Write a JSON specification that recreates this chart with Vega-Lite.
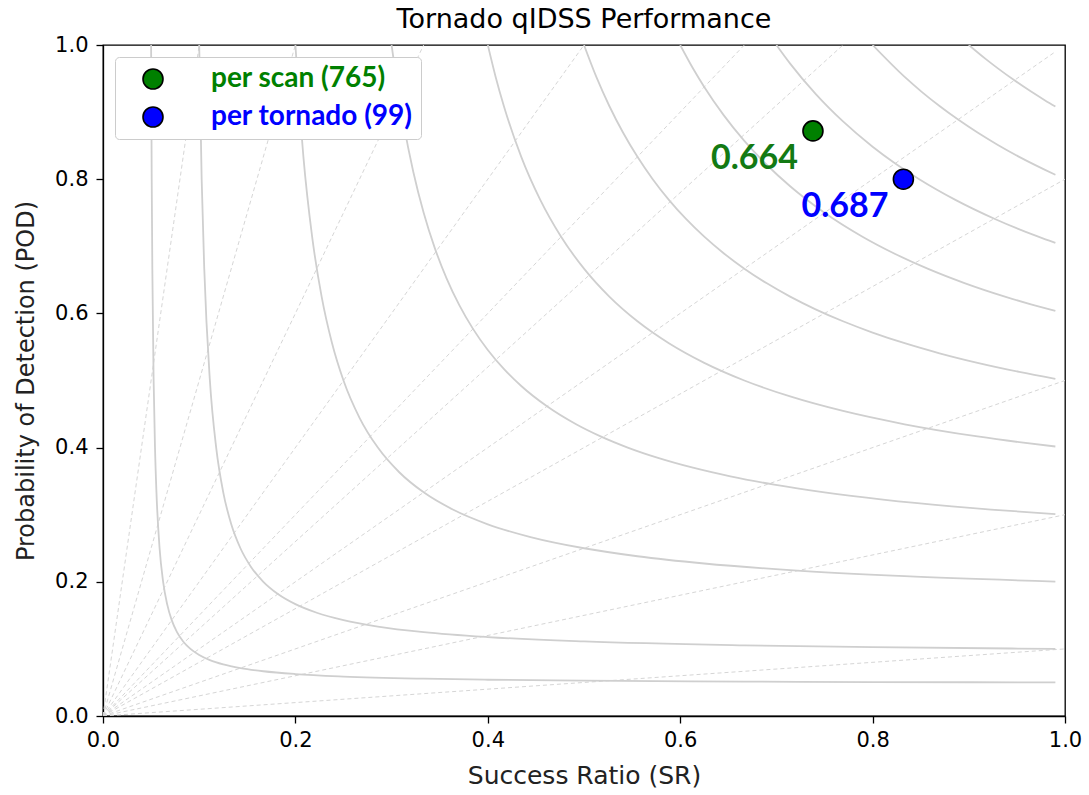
{
"$schema": "https://vega.github.io/schema/vega-lite/v6.json",
"width": 962, "height": 671,
"autosize": {"type": "none"},
"padding": {"left": 103, "top": 45, "right": 24, "bottom": 79},
"background": "white",
"title": {"text": "Tornado qIDSS Performance", "font": "DejaVu Sans", "fontSize": 27, "fontWeight": "normal", "color": "black", "offset": 0},
"datasets": {
"csi": [
{"c":0.05,"sr":0.05,"pod":1},{"c":0.05,"sr":0.05063,"pod":0.8},{"c":0.05,"sr":0.05128,"pod":0.66667},{"c":0.05,"sr":0.05263,"pod":0.5},{"c":0.05,"sr":0.05405,"pod":0.4},{"c":0.05,"sr":0.05556,"pod":0.33333},{"c":0.05,"sr":0.05882,"pod":0.25},{"c":0.05,"sr":0.0625,"pod":0.2},{"c":0.05,"sr":0.06667,"pod":0.16667},{"c":0.05,"sr":0.07143,"pod":0.14286},{"c":0.05,"sr":0.07692,"pod":0.125},{"c":0.05,"sr":0.08333,"pod":0.11111},{"c":0.05,"sr":0.09091,"pod":0.1},{"c":0.05,"sr":0.1,"pod":0.09091},{"c":0.05,"sr":0.11111,"pod":0.08333},{"c":0.05,"sr":0.125,"pod":0.07692},{"c":0.05,"sr":0.14286,"pod":0.07143},{"c":0.05,"sr":0.16667,"pod":0.06667},{"c":0.05,"sr":0.2,"pod":0.0625},{"c":0.05,"sr":0.25,"pod":0.05882},{"c":0.05,"sr":0.33333,"pod":0.05556},{"c":0.05,"sr":0.4,"pod":0.05405},{"c":0.05,"sr":0.5,"pod":0.05263},{"c":0.05,"sr":0.66667,"pod":0.05128},{"c":0.05,"sr":0.8,"pod":0.05063},{"c":0.05,"sr":0.99,"pod":0.05003},
{"c":0.1,"sr":0.1,"pod":1},{"c":0.1,"sr":0.10256,"pod":0.8},{"c":0.1,"sr":0.10526,"pod":0.66667},{"c":0.1,"sr":0.11111,"pod":0.5},{"c":0.1,"sr":0.11765,"pod":0.4},{"c":0.1,"sr":0.125,"pod":0.33333},{"c":0.1,"sr":0.13333,"pod":0.28571},{"c":0.1,"sr":0.14286,"pod":0.25},{"c":0.1,"sr":0.15385,"pod":0.22222},{"c":0.1,"sr":0.16667,"pod":0.2},{"c":0.1,"sr":0.18182,"pod":0.18182},{"c":0.1,"sr":0.2,"pod":0.16667},{"c":0.1,"sr":0.22222,"pod":0.15385},{"c":0.1,"sr":0.25,"pod":0.14286},{"c":0.1,"sr":0.28571,"pod":0.13333},{"c":0.1,"sr":0.33333,"pod":0.125},{"c":0.1,"sr":0.4,"pod":0.11765},{"c":0.1,"sr":0.5,"pod":0.11111},{"c":0.1,"sr":0.66667,"pod":0.10526},{"c":0.1,"sr":0.8,"pod":0.10256},{"c":0.1,"sr":0.99,"pod":0.1001},
{"c":0.2,"sr":0.2,"pod":1},{"c":0.2,"sr":0.20833,"pod":0.83333},{"c":0.2,"sr":0.21739,"pod":0.71429},{"c":0.2,"sr":0.22727,"pod":0.625},{"c":0.2,"sr":0.2381,"pod":0.55556},{"c":0.2,"sr":0.25,"pod":0.5},{"c":0.2,"sr":0.26667,"pod":0.44444},{"c":0.2,"sr":0.28571,"pod":0.4},{"c":0.2,"sr":0.30769,"pod":0.36364},{"c":0.2,"sr":0.33333,"pod":0.33333},{"c":0.2,"sr":0.36364,"pod":0.30769},{"c":0.2,"sr":0.4,"pod":0.28571},{"c":0.2,"sr":0.44444,"pod":0.26667},{"c":0.2,"sr":0.5,"pod":0.25},{"c":0.2,"sr":0.55556,"pod":0.2381},{"c":0.2,"sr":0.625,"pod":0.22727},{"c":0.2,"sr":0.71429,"pod":0.21739},{"c":0.2,"sr":0.83333,"pod":0.20833},{"c":0.2,"sr":0.99,"pod":0.2004},
{"c":0.3,"sr":0.3,"pod":1},{"c":0.3,"sr":0.30769,"pod":0.92308},{"c":0.3,"sr":0.3125,"pod":0.88235},{"c":0.3,"sr":0.32258,"pod":0.81081},{"c":0.3,"sr":0.33333,"pod":0.75},{"c":0.3,"sr":0.34483,"pod":0.69767},{"c":0.3,"sr":0.35714,"pod":0.65217},{"c":0.3,"sr":0.37037,"pod":0.61224},{"c":0.3,"sr":0.38462,"pod":0.57692},{"c":0.3,"sr":0.4,"pod":0.54545},{"c":0.3,"sr":0.41667,"pod":0.51724},{"c":0.3,"sr":0.43478,"pod":0.4918},{"c":0.3,"sr":0.46154,"pod":0.46154},{"c":0.3,"sr":0.4918,"pod":0.43478},{"c":0.3,"sr":0.51724,"pod":0.41667},{"c":0.3,"sr":0.54545,"pod":0.4},{"c":0.3,"sr":0.57692,"pod":0.38462},{"c":0.3,"sr":0.61224,"pod":0.37037},{"c":0.3,"sr":0.65217,"pod":0.35714},{"c":0.3,"sr":0.69767,"pod":0.34483},{"c":0.3,"sr":0.75,"pod":0.33333},{"c":0.3,"sr":0.81081,"pod":0.32258},{"c":0.3,"sr":0.88235,"pod":0.3125},{"c":0.3,"sr":0.92308,"pod":0.30769},{"c":0.3,"sr":0.99,"pod":0.30091},
{"c":0.4,"sr":0.4,"pod":1},{"c":0.4,"sr":0.40816,"pod":0.95238},{"c":0.4,"sr":0.41667,"pod":0.90909},{"c":0.4,"sr":0.43478,"pod":0.83333},{"c":0.4,"sr":0.45455,"pod":0.76923},{"c":0.4,"sr":0.47619,"pod":0.71429},{"c":0.4,"sr":0.5,"pod":0.66667},{"c":0.4,"sr":0.52632,"pod":0.625},{"c":0.4,"sr":0.55556,"pod":0.58824},{"c":0.4,"sr":0.57143,"pod":0.57143},{"c":0.4,"sr":0.58824,"pod":0.55556},{"c":0.4,"sr":0.625,"pod":0.52632},{"c":0.4,"sr":0.66667,"pod":0.5},{"c":0.4,"sr":0.71429,"pod":0.47619},{"c":0.4,"sr":0.76923,"pod":0.45455},{"c":0.4,"sr":0.83333,"pod":0.43478},{"c":0.4,"sr":0.90909,"pod":0.41667},{"c":0.4,"sr":0.95238,"pod":0.40816},{"c":0.4,"sr":0.99,"pod":0.40162},
{"c":0.5,"sr":0.5,"pod":1},{"c":0.5,"sr":0.51282,"pod":0.95238},{"c":0.5,"sr":0.52632,"pod":0.90909},{"c":0.5,"sr":0.54054,"pod":0.86957},{"c":0.5,"sr":0.55556,"pod":0.83333},{"c":0.5,"sr":0.57143,"pod":0.8},{"c":0.5,"sr":0.58824,"pod":0.76923},{"c":0.5,"sr":0.60606,"pod":0.74074},{"c":0.5,"sr":0.625,"pod":0.71429},{"c":0.5,"sr":0.64516,"pod":0.68966},{"c":0.5,"sr":0.66667,"pod":0.66667},{"c":0.5,"sr":0.68966,"pod":0.64516},{"c":0.5,"sr":0.71429,"pod":0.625},{"c":0.5,"sr":0.74074,"pod":0.60606},{"c":0.5,"sr":0.76923,"pod":0.58824},{"c":0.5,"sr":0.8,"pod":0.57143},{"c":0.5,"sr":0.83333,"pod":0.55556},{"c":0.5,"sr":0.86957,"pod":0.54054},{"c":0.5,"sr":0.90909,"pod":0.52632},{"c":0.5,"sr":0.95238,"pod":0.51282},{"c":0.5,"sr":0.99,"pod":0.50254},
{"c":0.6,"sr":0.6,"pod":1},{"c":0.6,"sr":0.6135,"pod":0.96463},{"c":0.6,"sr":0.625,"pod":0.9375},{"c":0.6,"sr":0.64516,"pod":0.89552},{"c":0.6,"sr":0.66667,"pod":0.85714},{"c":0.6,"sr":0.68966,"pod":0.82192},{"c":0.6,"sr":0.71429,"pod":0.78947},{"c":0.6,"sr":0.75,"pod":0.75},{"c":0.6,"sr":0.78947,"pod":0.71429},{"c":0.6,"sr":0.82192,"pod":0.68966},{"c":0.6,"sr":0.85714,"pod":0.66667},{"c":0.6,"sr":0.89552,"pod":0.64516},{"c":0.6,"sr":0.9375,"pod":0.625},{"c":0.6,"sr":0.96463,"pod":0.6135},{"c":0.6,"sr":0.99,"pod":0.60366},
{"c":0.7,"sr":0.7,"pod":1},{"c":0.7,"sr":0.71429,"pod":0.97222},{"c":0.7,"sr":0.74074,"pod":0.92715},{"c":0.7,"sr":0.76923,"pod":0.88608},{"c":0.7,"sr":0.8,"pod":0.84848},{"c":0.7,"sr":0.82353,"pod":0.82353},{"c":0.7,"sr":0.84848,"pod":0.8},{"c":0.7,"sr":0.88608,"pod":0.76923},{"c":0.7,"sr":0.92715,"pod":0.74074},{"c":0.7,"sr":0.97222,"pod":0.71429},{"c":0.7,"sr":0.99,"pod":0.70498},
{"c":0.8,"sr":0.8,"pod":1},{"c":0.8,"sr":0.83333,"pod":0.95238},{"c":0.8,"sr":0.85106,"pod":0.93023},{"c":0.8,"sr":0.86957,"pod":0.90909},{"c":0.8,"sr":0.88889,"pod":0.88889},{"c":0.8,"sr":0.90909,"pod":0.86957},{"c":0.8,"sr":0.93023,"pod":0.85106},{"c":0.8,"sr":0.95238,"pod":0.83333},{"c":0.8,"sr":0.99,"pod":0.80652},
{"c":0.9,"sr":0.9,"pod":1},{"c":0.9,"sr":0.91743,"pod":0.97933},{"c":0.9,"sr":0.93023,"pod":0.96515},{"c":0.9,"sr":0.94737,"pod":0.94737},{"c":0.9,"sr":0.96515,"pod":0.93023},{"c":0.9,"sr":0.97933,"pod":0.91743},{"c":0.9,"sr":0.99,"pod":0.90826}
],
"bias": [
{"b":0.1,"sr":0,"pod":0},{"b":0.1,"sr":1,"pod":0.1},
{"b":0.3,"sr":0,"pod":0},{"b":0.3,"sr":1,"pod":0.3},
{"b":0.5,"sr":0,"pod":0},{"b":0.5,"sr":1,"pod":0.5},
{"b":0.8,"sr":0,"pod":0},{"b":0.8,"sr":1,"pod":0.8},
{"b":1,"sr":0,"pod":0},{"b":1,"sr":0.99,"pod":0.99},
{"b":1.3,"sr":0,"pod":0},{"b":1.3,"sr":0.76923,"pod":1},
{"b":1.5,"sr":0,"pod":0},{"b":1.5,"sr":0.66667,"pod":1},
{"b":2,"sr":0,"pod":0},{"b":2,"sr":0.5,"pod":1},
{"b":3,"sr":0,"pod":0},{"b":3,"sr":0.33333,"pod":1},
{"b":5,"sr":0,"pod":0},{"b":5,"sr":0.2,"pod":1},
{"b":10,"sr":0,"pod":0},{"b":10,"sr":0.1,"pod":1}
],
"pts": [
{"series":"per scan (765)","sr":0.738,"pod":0.872,"csi":"0.664"},
{"series":"per tornado (99)","sr":0.832,"pod":0.80,"csi":"0.687"}
]
},
"encoding": {
"x": {"field":"sr","type":"quantitative","scale":{"domain":[0,1],"nice":false,"zero":false},
"axis":{"title":"Success Ratio (SR)","values":[0,0.2,0.4,0.6,0.8,1],"format":".1f","grid":false,"tickSize":7,"labelPadding":6,"labelFlush":false,"titlePadding":13,"titleFontSize":25}},
"y": {"field":"pod","type":"quantitative","scale":{"domain":[0,1],"nice":false,"zero":false},
"axis":{"title":"Probability of Detection (POD)","values":[0,0.2,0.4,0.6,0.8,1],"format":".1f","grid":false,"tickSize":7,"labelPadding":8,"labelFlush":false,"titlePadding":16,"titleFontSize":24}}
},
"layer": [
{"data":{"name":"bias"},"mark":{"type":"line","color":"#d6d6d6","strokeWidth":1,"strokeDash":[4,3],"clip":true},
 "encoding":{"detail":{"field":"b","type":"nominal"}}},
{"data":{"name":"csi"},"mark":{"type":"line","color":"#cfcfcf","strokeWidth":1.8,"interpolate":"monotone","clip":true},
 "encoding":{"detail":{"field":"c","type":"nominal"}}},
{"data":{"name":"pts"},"mark":{"type":"point","shape":"circle","filled":true,"size":400,"stroke":"black","strokeWidth":1.6,"opacity":1},
 "encoding":{"color":{"field":"series","type":"nominal",
   "scale":{"domain":["per scan (765)","per tornado (99)"],"range":["#008000","#0000ff"]},
   "legend":{"title":null,"orient":"top-left","offset":12,"padding":8,"strokeColor":"#cccccc","fillColor":"white","cornerRadius":4,
     "labelFont":"Lato","labelFontSize":28,"labelFontWeight":"bold","labelOffset":44,"labelLimit":500,"rowPadding":10,
     "symbolOffset":16,"symbolType":"circle","symbolSize":400,"symbolStrokeColor":"black","symbolStrokeWidth":1.6,"symbolOpacity":1,
     "encode":{"labels":{"update":{"fill":{"signal":"datum.value == 'per scan (765)' ? '#008000' : '#0000ff'"}}}}}}}},
{"data":{"name":"pts"},"mark":{"type":"text","font":"Lato","fontSize":34,"fontWeight":"bold","align":"right","baseline":"middle","dx":-15,"dy":28},
 "encoding":{"text":{"field":"csi","type":"nominal"},
   "color":{"condition":{"test":"datum.series == 'per scan (765)'","value":"#137a13"},"value":"#0000ff"}}}
],
"config": {
"view": {"stroke":"black","strokeWidth":1.3},
"axis": {"labelFont":"DejaVu Sans","labelFontSize":21,"labelColor":"black","titleFont":"DejaVu Sans","titleFontWeight":"normal","titleColor":"#222222","domainColor":"black","tickColor":"black","domainWidth":1.3,"tickWidth":1.3}
}
}
